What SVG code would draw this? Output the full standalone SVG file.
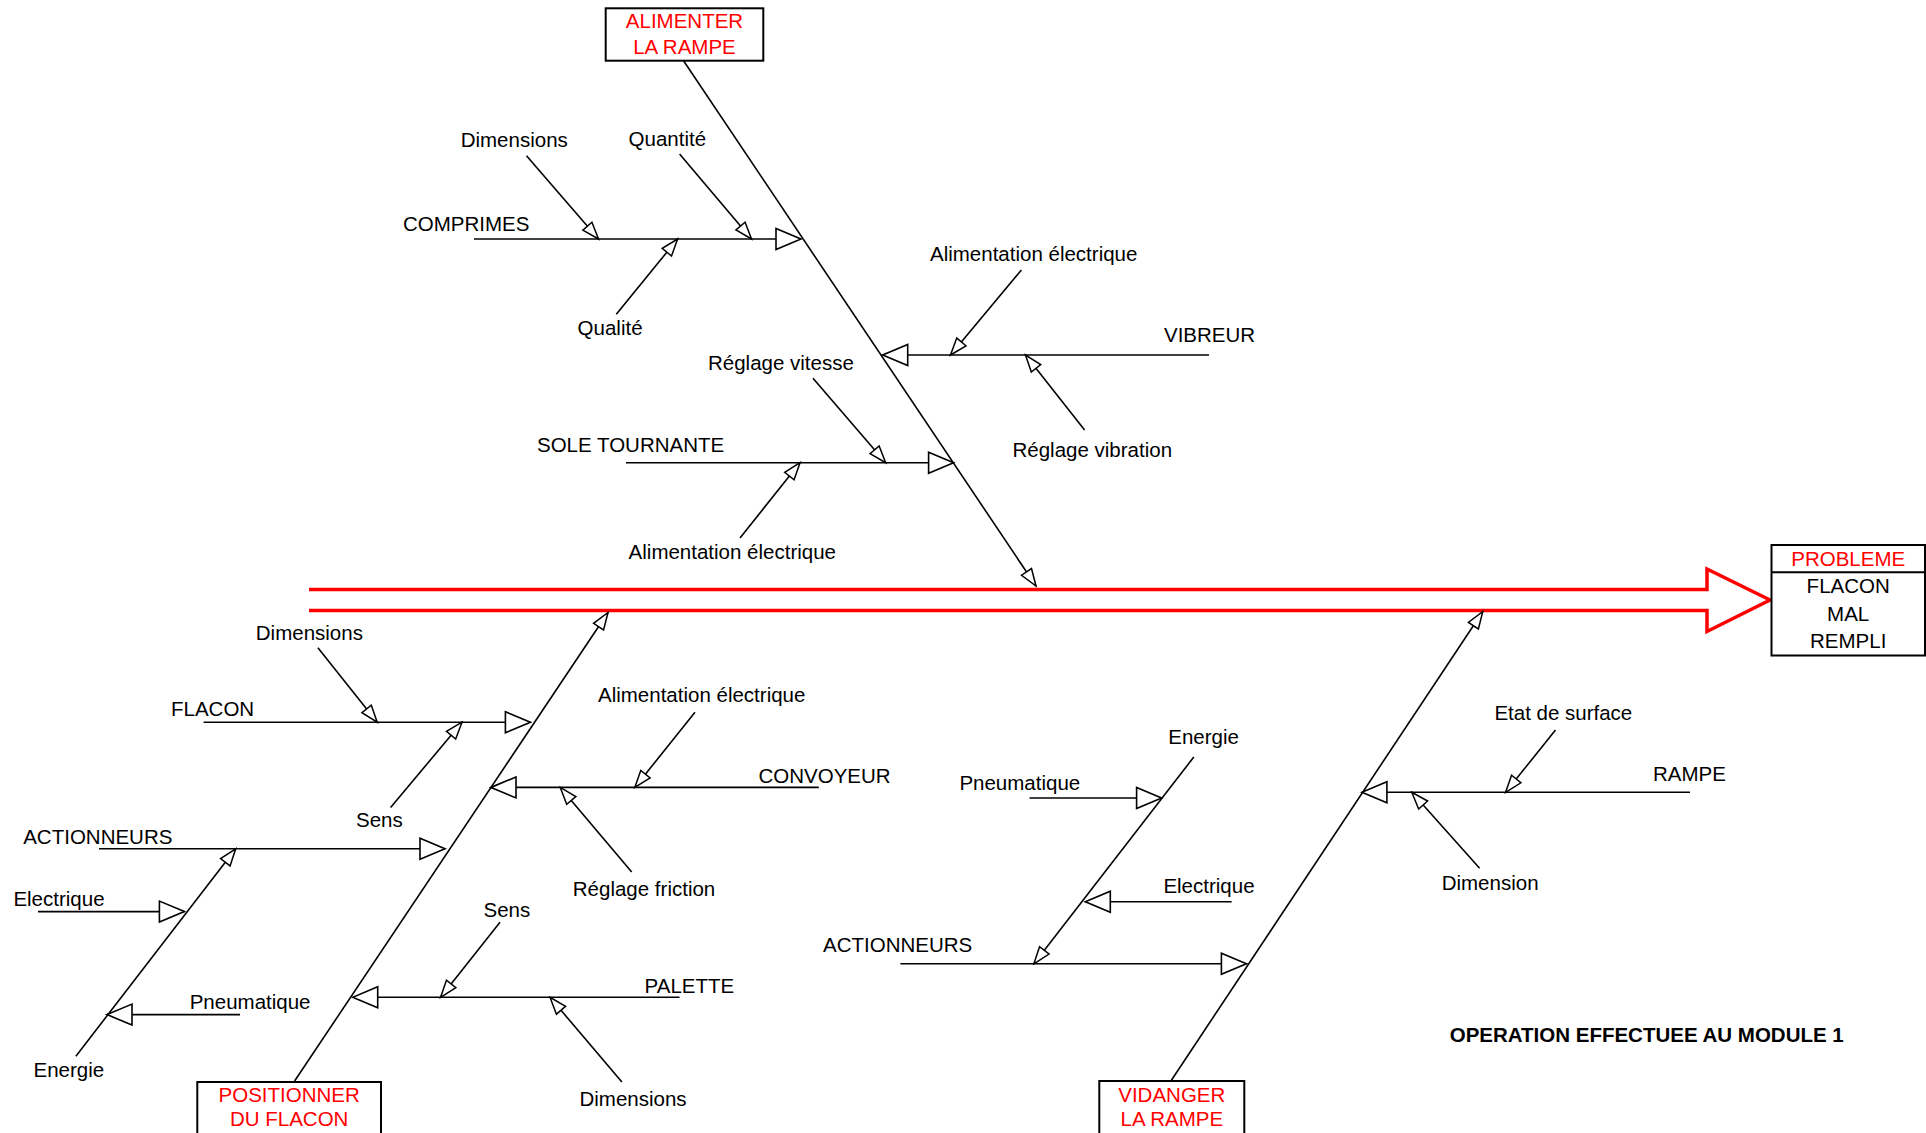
<svg xmlns="http://www.w3.org/2000/svg" width="1926" height="1133" viewBox="0 0 1926 1133">
  <style>
    text { font-family: "Liberation Sans", Arial, sans-serif; font-size: 20.5px; fill: #000; }
    .red { fill: #ff0000; }
    .mid { text-anchor: middle; }
    .bold { font-weight: bold; }
    .box { fill: #fff; stroke: #000; stroke-width: 2; }
    .ln { stroke: #000; stroke-width: 1.6; fill: none; }
    .big { marker-end: url(#bigHead); }
    .small { marker-end: url(#smallHead); }
  </style>
  <defs>
    <marker id="bigHead" viewBox="-28 -13 30 26" refX="0" refY="0" markerWidth="30" markerHeight="26" markerUnits="userSpaceOnUse" orient="auto">
      <path d="M0,0 L-25,-10.5 L-25,10.5 Z" fill="#fff" stroke="#000" stroke-width="1.6" stroke-linejoin="miter"/>
    </marker>
    <marker id="smallHead" viewBox="-20 -9 22 18" refX="0" refY="0" markerWidth="22" markerHeight="18" markerUnits="userSpaceOnUse" orient="auto">
      <path d="M0,0 L-17,-6 L-17,6 Z" fill="#fff" stroke="#000" stroke-width="1.5"/>
    </marker>
  </defs>

  <rect width="1926" height="1133" fill="#fff"/>

  <!-- connectors -->
  <g id="connectors">
    <!-- main spine (double red arrow) -->
    <path d="M309,589.5 L1707,589.5 L1707,569 L1770,600 L1707,631.5 L1707,610.5 L309,610.5" fill="none" stroke="#ff0000" stroke-width="3.5" stroke-linejoin="miter"/>

    <!-- ALIMENTER LA RAMPE branch -->
    <line class="ln small" x1="683.7" y1="61" x2="1036" y2="586"/>
    <line class="ln big" x1="474" y1="239" x2="801" y2="239"/>
    <line class="ln small" x1="526.5" y1="155.7" x2="598.5" y2="239"/>
    <line class="ln small" x1="679.6" y1="154" x2="751.5" y2="239"/>
    <line class="ln small" x1="616.3" y1="314.3" x2="677.6" y2="239"/>
    <line class="ln big" x1="1209" y1="355" x2="882.7" y2="355"/>
    <line class="ln small" x1="1021.4" y1="270" x2="950.5" y2="355"/>
    <line class="ln small" x1="1084.6" y1="430" x2="1025.5" y2="355"/>
    <line class="ln big" x1="626" y1="462.7" x2="953.6" y2="462.7"/>
    <line class="ln small" x1="813" y1="378.3" x2="885.7" y2="462.7"/>
    <line class="ln small" x1="740" y1="538" x2="800" y2="462.7"/>

    <!-- POSITIONNER DU FLACON branch -->
    <line class="ln small" x1="294.6" y1="1081" x2="608" y2="612.5"/>
    <line class="ln big" x1="203.6" y1="722.2" x2="530.4" y2="722.2"/>
    <line class="ln small" x1="317.9" y1="647.7" x2="377.2" y2="722.2"/>
    <line class="ln small" x1="390.6" y1="807.5" x2="462" y2="722.2"/>
    <line class="ln big" x1="818.8" y1="787.4" x2="491" y2="787.4"/>
    <line class="ln small" x1="695" y1="712.3" x2="634.8" y2="787.4"/>
    <line class="ln small" x1="631.7" y1="872" x2="560.3" y2="787.4"/>
    <line class="ln big" x1="99" y1="848.8" x2="445" y2="848.8"/>
    <line class="ln small" x1="75.9" y1="1056.2" x2="235.7" y2="848.8"/>
    <line class="ln big" x1="38" y1="911.6" x2="184.4" y2="911.6"/>
    <line class="ln big" x1="240" y1="1014.6" x2="107" y2="1014.6"/>
    <line class="ln big" x1="679.5" y1="997.3" x2="352.7" y2="997.3"/>
    <line class="ln small" x1="500" y1="922.2" x2="440.6" y2="997.3"/>
    <line class="ln small" x1="621.9" y1="1082" x2="550" y2="997.3"/>

    <!-- VIDANGER LA RAMPE branch -->
    <line class="ln small" x1="1171.4" y1="1080.2" x2="1482.8" y2="611.5"/>
    <line class="ln big" x1="900.4" y1="963.8" x2="1246.4" y2="963.8"/>
    <line class="ln small" x1="1193.8" y1="757" x2="1033.9" y2="963.8"/>
    <line class="ln big" x1="1029.5" y1="798" x2="1161.6" y2="798"/>
    <line class="ln big" x1="1231.7" y1="901.7" x2="1085.3" y2="901.7"/>
    <line class="ln big" x1="1690" y1="792.3" x2="1361.9" y2="792.3"/>
    <line class="ln small" x1="1555.5" y1="730" x2="1505.6" y2="792.3"/>
    <line class="ln small" x1="1479.6" y1="868.3" x2="1411.8" y2="792.3"/>
  </g>

  <!-- category boxes -->
  <g id="node-alimenter">
    <rect class="box" x="605.7" y="8.3" width="157.6" height="52.4"/>
    <text class="red mid" x="684.5" y="28.3">ALIMENTER</text>
    <text class="red mid" x="684.5" y="54.3">LA RAMPE</text>
  </g>
  <g id="node-positionner">
    <rect class="box" x="197.3" y="1082" width="183.7" height="60"/>
    <text class="red mid" x="289.2" y="1102.3">POSITIONNER</text>
    <text class="red mid" x="289.2" y="1125.7">DU FLACON</text>
  </g>
  <g id="node-vidanger">
    <rect class="box" x="1099.3" y="1081" width="145" height="60"/>
    <text class="red mid" x="1171.8" y="1101.7">VIDANGER</text>
    <text class="red mid" x="1171.8" y="1125.7">LA RAMPE</text>
  </g>
  <g id="node-probleme">
    <rect class="box" x="1771.5" y="545" width="153.5" height="110.5"/>
    <line x1="1771.5" y1="572.3" x2="1925" y2="572.3" stroke="#000" stroke-width="2"/>
    <text class="red mid" x="1848.2" y="566">PROBLEME</text>
    <text class="mid" x="1848.2" y="593.3">FLACON</text>
    <text class="mid" x="1848.2" y="620.7">MAL</text>
    <text class="mid" x="1848.2" y="648.3">REMPLI</text>
  </g>

  <!-- cause labels -->
  <g id="labels-alimenter">
    <text x="460.7" y="146.7">Dimensions</text>
    <text x="628.6" y="145.7">Quantité</text>
    <text x="403" y="230.7">COMPRIMES</text>
    <text x="577.6" y="335">Qualité</text>
    <text x="930" y="260.7">Alimentation électrique</text>
    <text x="1164" y="341.7">VIBREUR</text>
    <text x="708" y="370">Réglage vitesse</text>
    <text x="1012.5" y="456.7">Réglage vibration</text>
    <text x="537" y="451.7">SOLE TOURNANTE</text>
    <text x="628.6" y="559.3">Alimentation électrique</text>
  </g>
  <g id="labels-positionner">
    <text x="255.8" y="640">Dimensions</text>
    <text x="171" y="715.8">FLACON</text>
    <text x="598" y="701.7">Alimentation électrique</text>
    <text x="758.5" y="782.8">CONVOYEUR</text>
    <text x="356" y="827">Sens</text>
    <text x="23.2" y="843.5">ACTIONNEURS</text>
    <text x="572.8" y="896.4">Réglage friction</text>
    <text x="13.4" y="906.3">Electrique</text>
    <text x="483.5" y="916.9">Sens</text>
    <text x="644.6" y="992.7">PALETTE</text>
    <text x="189.7" y="1008.6">Pneumatique</text>
    <text x="33.5" y="1077.4">Energie</text>
    <text x="579.5" y="1105.6">Dimensions</text>
  </g>
  <g id="labels-vidanger">
    <text x="1168.3" y="744">Energie</text>
    <text x="959.4" y="789.9">Pneumatique</text>
    <text x="1163.4" y="893.2">Electrique</text>
    <text x="823" y="952">ACTIONNEURS</text>
    <text x="1494.4" y="720">Etat de surface</text>
    <text x="1653" y="781">RAMPE</text>
    <text x="1441.7" y="890">Dimension</text>
  </g>

  <g id="caption">
    <text class="bold" x="1449.7" y="1041.7">OPERATION EFFECTUEE AU MODULE 1</text>
  </g>
</svg>
